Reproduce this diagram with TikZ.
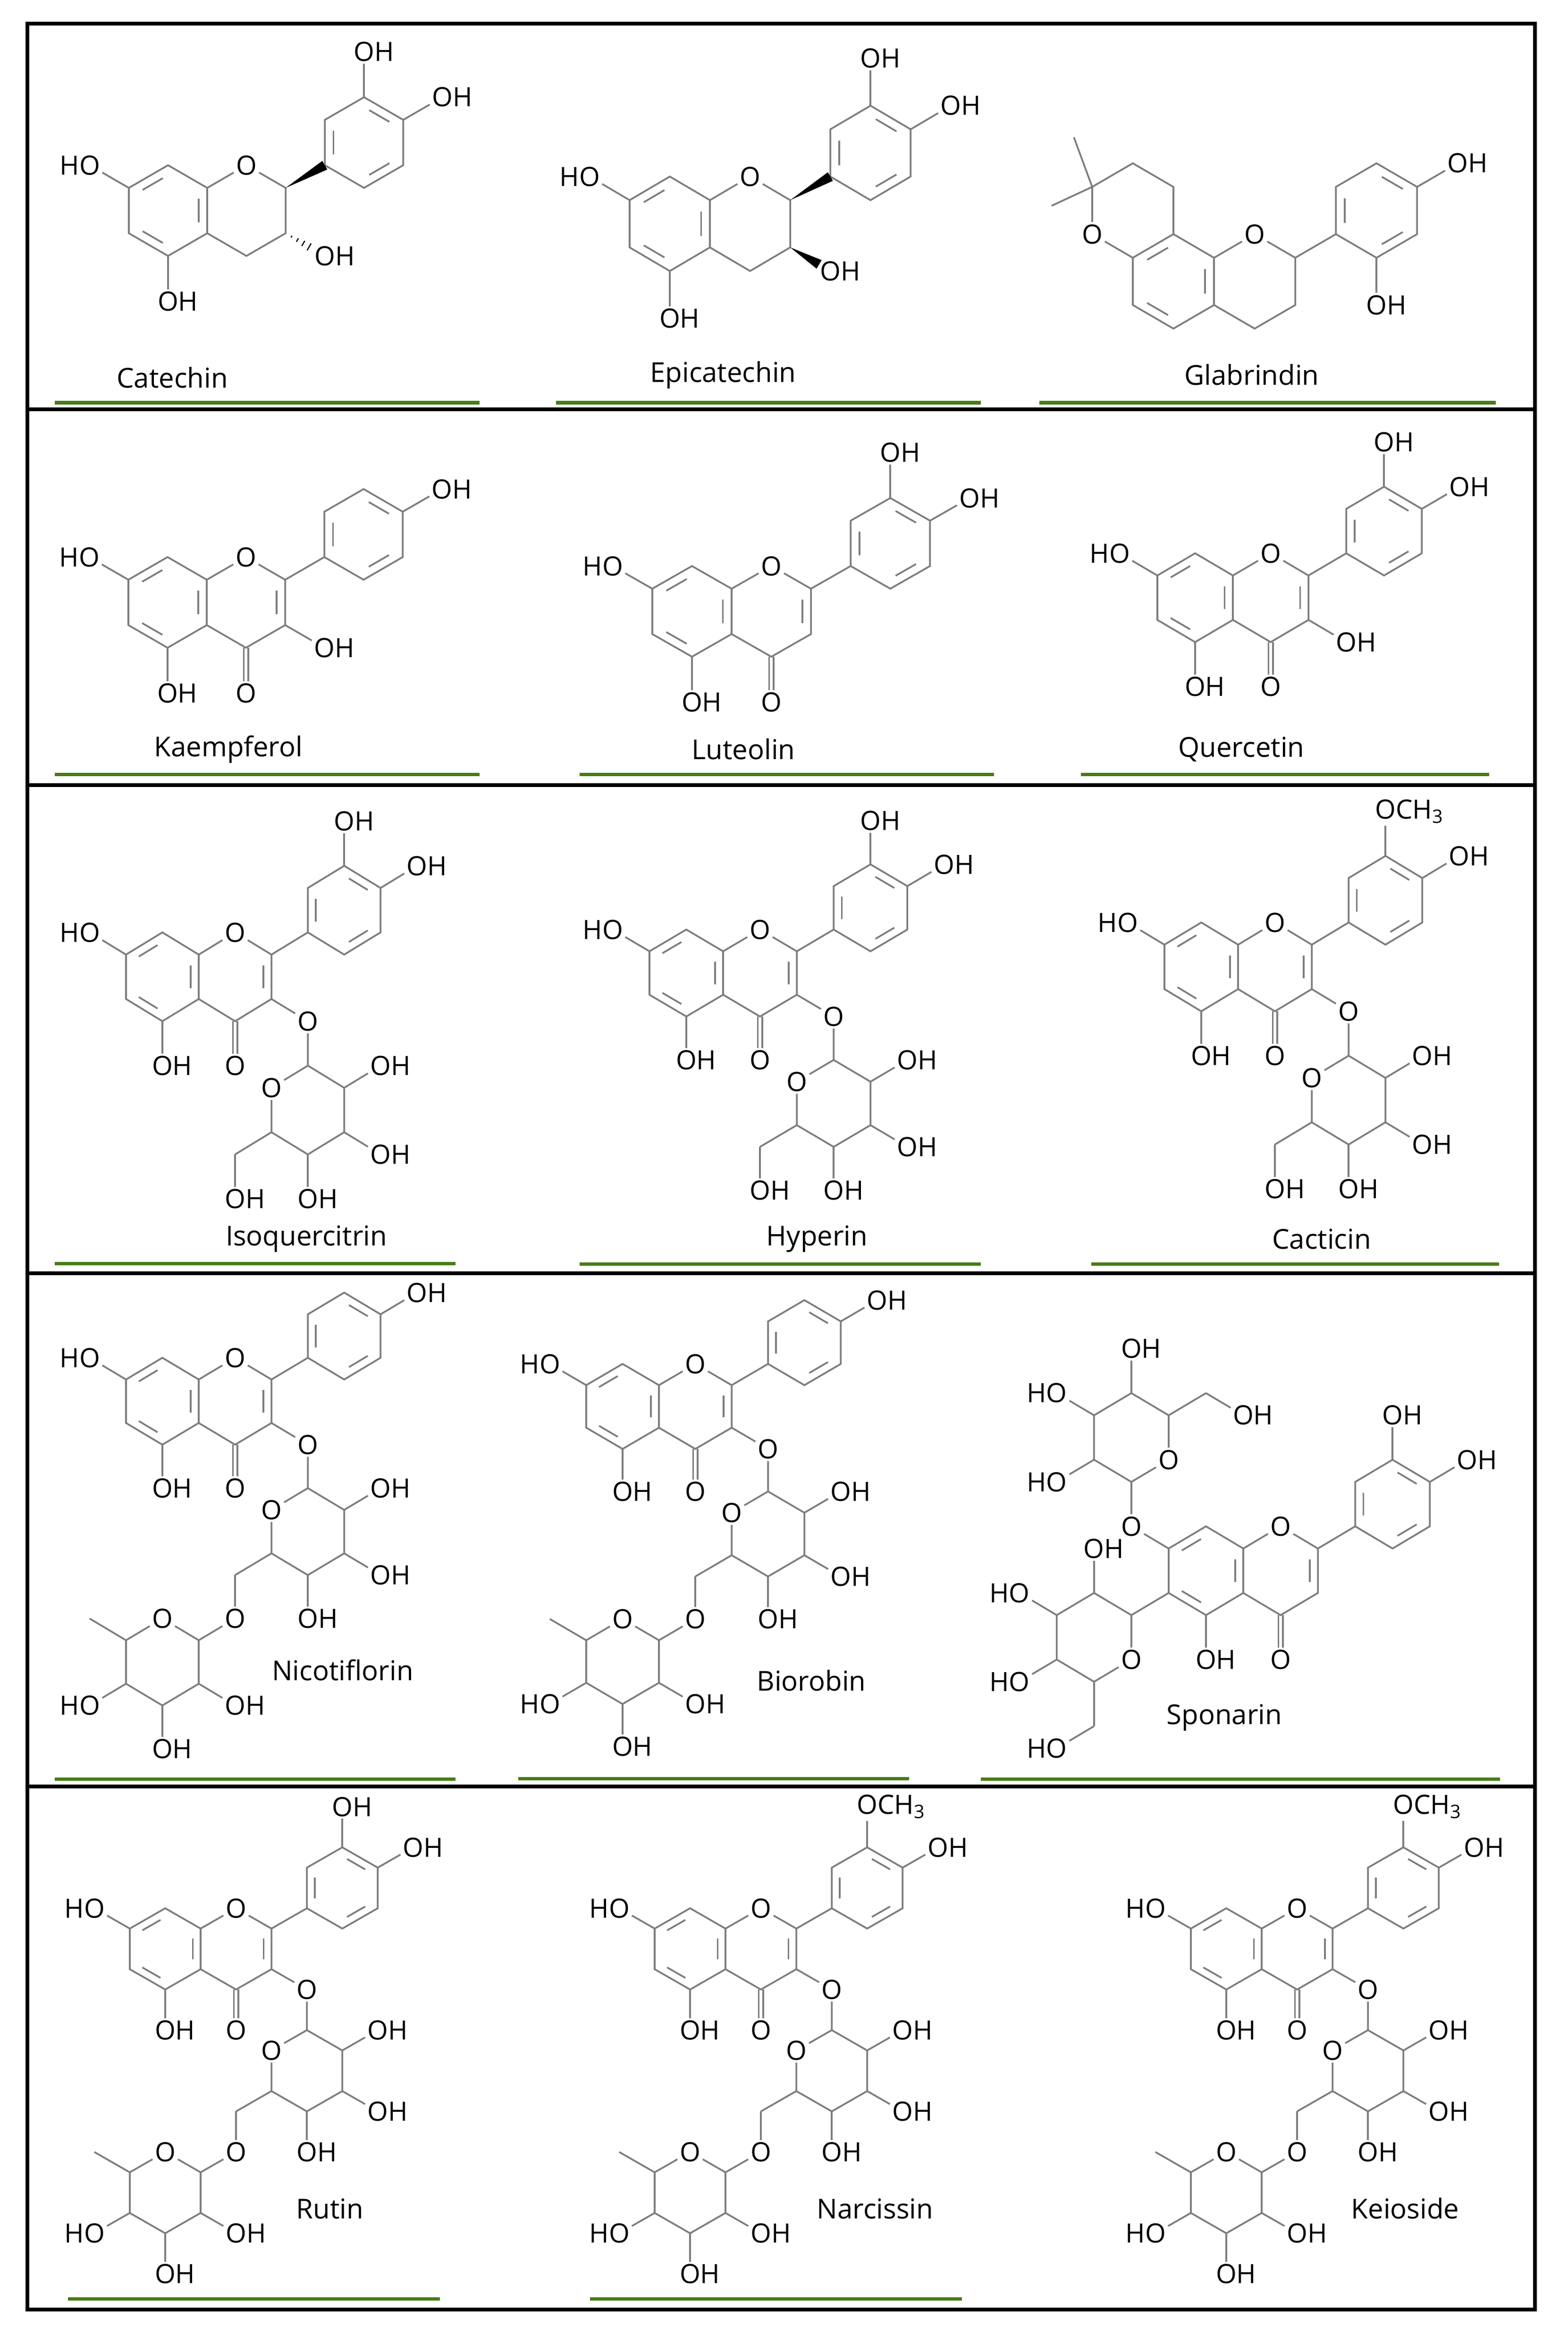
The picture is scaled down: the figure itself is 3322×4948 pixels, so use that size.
\documentclass[tikz,border=0pt]{standalone}
\usepackage{fontspec}
\setmainfont{Open Sans}
\usetikzlibrary{calc}
\definecolor{bondgray}{RGB}{125,125,125}
\definecolor{lgreen}{RGB}{70,125,20}
\tikzset{bond/.style={draw=bondgray,line width=1.05pt},
 atom/.style={inner sep=1.2pt,font=\fontsize{16}{16}\selectfont,text=black},
 cname/.style={font=\fontsize{16.5}{17}\selectfont,text=black},
 gline/.style={draw=lgreen,line width=2pt},
 frame/.style={draw=black,line width=2.2pt}}
\newcommand\xOH{O\rlap{H}}
\newcommand\xHO{\llap{H}O}
\newcommand\xOMe{O\rlap{CH\textsubscript{3}}}
\newcommand\dbin[3]{\draw[bond] ($(#1)!0.17!(#2)!0.22!(#3)$) -- ($(#2)!0.17!(#1)!0.22!(#3)$);}
\newcommand\sub[4]{\node[atom] (#2) at (#3) {#4}; \draw[bond] (#1) -- (#2);}
\newcommand\hexring[6]{\draw[bond] (#1)--(#2)--(#3)--(#4)--(#5)--(#6)--cycle;}
\newcommand\molA[1]{%
\coordinate (a1) at (0,-2);\coordinate (a2) at (1,-1);\coordinate (a3) at (1,1);\coordinate (a4) at (0,2);\coordinate (a5) at (-1,1);\coordinate (a6) at (-1,-1);\coordinate (ac) at (0,0);
\hexring{a1}{a2}{a3}{a4}{a5}{a6}
\dbin{a6}{a1}{ac}\dbin{a2}{a3}{ac}\dbin{a5}{a4}{ac}
\sub{a6}{o7}{-2,-2}{#1}\sub{a4}{o5}{0,4}{\xOH}}
\newcommand\molC{%
\node[atom] (c1) at (2,-2) {O};\coordinate (c2) at (3,-1);\coordinate (c3) at (3,1);\coordinate (c4) at (2,2);\coordinate (cc) at (2,0);
\draw[bond] (a2)--(c1)--(c2)--(c3)--(c4)--(a3);}
\newcommand\flavC{\molC\dbin{c2}{c3}{cc}\node[atom] (o4) at (2,4) {O};
\draw[bond] ([xshift=-1.3pt]c4)--([xshift=-1.3pt]o4.north);\draw[bond] ([xshift=1.3pt]c4)--([xshift=1.3pt]o4.north);}
\newcommand\molB{%
\coordinate (b1) at (4,-2);\coordinate (b2) at (4,-4);\coordinate (b3) at (5,-5);\coordinate (b4) at (6,-4);\coordinate (b5) at (6,-2);\coordinate (b6) at (5,-1);\coordinate (bc) at (5,-3);
\hexring{b1}{b2}{b3}{b4}{b5}{b6}\dbin{b1}{b2}{bc}\dbin{b3}{b4}{bc}\dbin{b5}{b6}{bc}}
\newcommand\glc[1]{\sub{c3}{o3}{4,2}{O}
\coordinate (g1) at (4,4);\coordinate (g2) at (5,5);\coordinate (g3) at (5,7);\coordinate (g4) at (4,8);\coordinate (g5) at (3,7);\node[atom] (gO) at (3,5) {O};\coordinate (g6) at (2,8);
\draw[bond] (o3)--(g1)--(g2)--(g3)--(g4)--(g5)--(gO)--(g1);
\draw[bond] (g5)--(g6);
\sub{g2}{og2}{6,4}{\xOH}\sub{g3}{og3}{6,8}{\xOH}\sub{g4}{og4}{4,10}{\xOH}\sub{g6}{og6}{2,10}{#1}}
\newcommand\rha{\coordinate (r1) at (1,11);\node[atom] (rO) at (0,10) {O};\coordinate (r5) at (-1,11);\coordinate (r4) at (-1,13);\coordinate (r3) at (0,14);\coordinate (r2) at (1,13);\coordinate (r6) at (-2,10);
\draw[bond] (og6)--(r1)--(rO)--(r5)--(r4)--(r3)--(r2)--(r1);\draw[bond] (r5)--(r6);
\sub{r2}{or2}{2,14}{\xOH}\sub{r3}{or3}{0,16}{\xOH}\sub{r4}{or4}{-2,14}{\xHO}}
\newcommand\flavone[2]{\molA{\xHO}\flavC\molB\draw[bond] (c2)--(b1);
\sub{b4}{ob4}{7,-5}{\xOH}\ifx#1x\else\sub{b3}{ob3}{5,-7}{#1}\fi}
\begin{document}
\begin{tikzpicture}[x=0.01cm,y=-0.01cm]
\useasboundingbox (0,0) rectangle (3322,4948);
% frame
\draw[frame] (58,50) rectangle (3252,4892);
\foreach \yy in {867,1663,2697,3784} \draw[frame] (58,\yy)--(3252,\yy);
% green lines
\foreach \xa/\xb/\yy in {116/1016/853,1178/2078/853,2202/3169/853,116/1016/1640,1228/2106/1640,2290/3155/1640,116/965/2676,1228/2078/2677,2312/3176/2677,116/965/3768,1098/1926/3767,2078/3178/3768,144/932/4869,1250/2038/4869}
 \draw[gline] (\xa,\yy)--(\xb,\yy);
% names
\node[cname] (n1) at (365,800) {Catechin};
\node[cname] (n2) at (1532,794) {Epicatechin};
\node[cname] (n3) at (2652,794) {Glabrindin};
\node[cname] (n4) at (484,1587) {Kaempferol};
\node[cname] (n5) at (1575,1587) {Luteolin};
\node[cname] (n6) at (2630,1587) {Quercetin};
\node[cname] (n7) at (649,2624) {Isoquercitrin};
\node[cname] (n8) at (1731,2624) {Hyperin};
\node[cname] (n9) at (2800,2624) {Cacticin};
\node[cname] (n10) at (726,3538) {Nicotiflorin};
\node[cname] (n11) at (1719,3560) {Biorobin};
\node[cname] (n12) at (2594,3638) {Sponarin};
\node[cname] (n13) at (699,4678) {Rutin};
\node[cname] (n14) at (1854,4678) {Narcissin};
\node[cname] (n15) at (2977,4678) {Keioside};
% Catechin
\begin{scope}[shift={(356,446)},x=0.83cm,y=-0.48cm]
\molA{\xHO}\molC\molB
\fill[black] (c2) -- ($(b1)!3pt!90:(c2)$) -- ($(b1)!3pt!-90:(c2)$) -- cycle;
\sub{b3}{ob3}{5,-7}{\xOH}\sub{b4}{ob4}{7,-5}{\xOH}
\node[atom] (o3) at (4,2) {\xOH};
\foreach \t/\w in {0.15/0.6pt,0.3/1.2pt,0.45/1.8pt,0.6/2.4pt}{\coordinate (hp) at ($(c3)!\t!(o3)$);\draw[black,line width=0.7pt] ($(hp)!\w!90:(o3)$) -- ($(hp)!\w!-90:(o3)$);}
\end{scope}
% Epicatechin
\begin{scope}[shift={(1419,474)},x=0.85cm,y=-0.5cm]
\molA{\xHO}\molC\molB
\fill[black] (c2) -- ($(b1)!3pt!90:(c2)$) -- ($(b1)!3pt!-90:(c2)$) -- cycle;
\sub{b3}{ob3}{5,-7}{\xOH}\sub{b4}{ob4}{7,-5}{\xOH}
\node[atom] (o3) at (4,2) {\xOH};
\coordinate (wt) at ($(c3)!0.72!(o3)$);
\fill[black] (c3) -- ($(wt)!3pt!90:(c3)$) -- ($(wt)!3pt!-90:(c3)$) -- cycle;
\end{scope}
% Glabrindin
\begin{scope}[shift={(2486,596)},x=0.86cm,y=-0.5cm]
\coordinate (p1) at (0,-2);\coordinate (p2) at (1,-1);\coordinate (p3) at (1,1);\coordinate (p4) at (0,2);\coordinate (p5) at (-1,1);\coordinate (p6) at (-1,-1);\coordinate (pc) at (0,0);
\hexring{p1}{p2}{p3}{p4}{p5}{p6}\dbin{p6}{p1}{pc}\dbin{p2}{p3}{pc}\dbin{p4}{p5}{pc}
\node[atom] (oL) at (-2,-2) {O};\coordinate (q1) at (-2,-4);\coordinate (q2) at (-1,-5);\coordinate (q3) at (0,-4);
\draw[bond] (p6)--(oL)--(q1)--(q2)--(q3)--(p1);
\coordinate (m1) at (-2.45,-6.1);\coordinate (m2) at (-3,-3.2);
\draw[bond] (q1)--(m1);\draw[bond] (q1)--(m2);
\node[atom] (oR) at (2,-2) {O};\coordinate (r2) at (3,-1);\coordinate (r3) at (3,1);\coordinate (r4) at (2,2);
\draw[bond] (p2)--(oR)--(r2)--(r3)--(r4)--(p3);
\coordinate (k1) at (4,-2);\coordinate (k2) at (4,-4);\coordinate (k3) at (5,-5);\coordinate (k4) at (6,-4);\coordinate (k5) at (6,-2);\coordinate (k6) at (5,-1);\coordinate (kc) at (5,-3);
\draw[bond] (r2)--(k1);
\hexring{k1}{k2}{k3}{k4}{k5}{k6}\dbin{k1}{k2}{kc}\dbin{k3}{k4}{kc}\dbin{k5}{k6}{kc}
\sub{k4}{ok4}{7,-5}{\xOH}\sub{k6}{ok6}{5,1}{\xOH}
\end{scope}
% Kaempferol
\begin{scope}[shift={(355,1276)},x=0.83cm,y=-0.48cm]
\flavone{x}{}\sub{c3}{o3}{4,2}{\xOH}
\end{scope}
% Luteolin
\begin{scope}[shift={(1466,1295)},x=0.84cm,y=-0.48cm]
\flavone{\xOH}{}
\end{scope}
% Quercetin
\begin{scope}[shift={(2532,1266)},x=0.8cm,y=-0.47cm]
\flavone{\xOH}{}\sub{c3}{o3}{4,2}{\xOH}
\end{scope}
% Isoquercitrin
\begin{scope}[shift={(344,2069)},x=0.77cm,y=-0.47cm]
\flavone{\xOH}{}\glc{\xOH}
\end{scope}
% Hyperin
\begin{scope}[shift={(1454,2061)},x=0.78cm,y=-0.46cm]
\flavone{\xOH}{}\glc{\xOH}
\end{scope}
% Cacticin
\begin{scope}[shift={(2545,2048)},x=0.78cm,y=-0.47cm]
\flavone{\xOMe}{}\glc{\xOH}
\end{scope}
% Nicotiflorin
\begin{scope}[shift={(344,2968)},x=0.77cm,y=-0.46cm]
\flavone{x}{}\glc{O}\rha
\end{scope}
% Biorobin
\begin{scope}[shift={(1319,2979)},x=0.77cm,y=-0.45cm]
\flavone{x}{}\glc{O}\rha
\end{scope}
% Sponarin
\begin{scope}[shift={(2555,3327)},x=0.79cm,y=-0.47cm]
\molA{O}\flavC\molB\draw[bond] (c2)--(b1);
\sub{b3}{ob3}{5,-7}{\xOH}\sub{b4}{ob4}{7,-5}{\xOH}
\coordinate (s1) at (-2,-4);\node[atom] (sO) at (-1,-5) {O};\coordinate (s5) at (-1,-7);\coordinate (s4) at (-2,-8);\coordinate (s3) at (-3,-7);\coordinate (s2) at (-3,-5);
\draw[bond] (o7)--(s1)--(sO)--(s5)--(s4)--(s3)--(s2)--(s1);
\sub{s4}{os4}{-2,-10}{\xOH}\sub{s3}{os3}{-4,-8}{\xHO}\sub{s2}{os2}{-4,-4}{\xHO}
\coordinate (s6) at (0,-8);\draw[bond] (s5)--(s6);\sub{s6}{os6}{1,-7}{\xOH}
\coordinate (t1) at (-2,2);\node[atom] (tO) at (-2,4) {O};\coordinate (tb) at (-3,5);\coordinate (tl) at (-4,4);\coordinate (tu) at (-4,2);\coordinate (tt) at (-3,1);
\draw[bond] (a5)--(t1)--(tO)--(tb)--(tl)--(tu)--(tt)--(t1);
\sub{tt}{ot}{-3,-1}{\xOH}\sub{tu}{otu}{-5,1}{\xHO}\sub{tl}{otl}{-5,5}{\xHO}
\coordinate (t6) at (-3,7);\draw[bond] (tb)--(t6);\sub{t6}{ot6}{-4,8}{\xHO}
\end{scope}
% Rutin
\begin{scope}[shift={(350,4128)},x=0.75cm,y=-0.43cm]
\flavone{\xOH}{}\glc{O}\rha
\end{scope}
% Narcissin
\begin{scope}[shift={(1462,4128)},x=0.75cm,y=-0.43cm]
\flavone{\xOMe}{}\glc{O}\rha
\end{scope}
% Keioside
\begin{scope}[shift={(2598,4128)},x=0.75cm,y=-0.43cm]
\flavone{\xOMe}{}\glc{O}\rha
\end{scope}
\end{tikzpicture}
\end{document}
